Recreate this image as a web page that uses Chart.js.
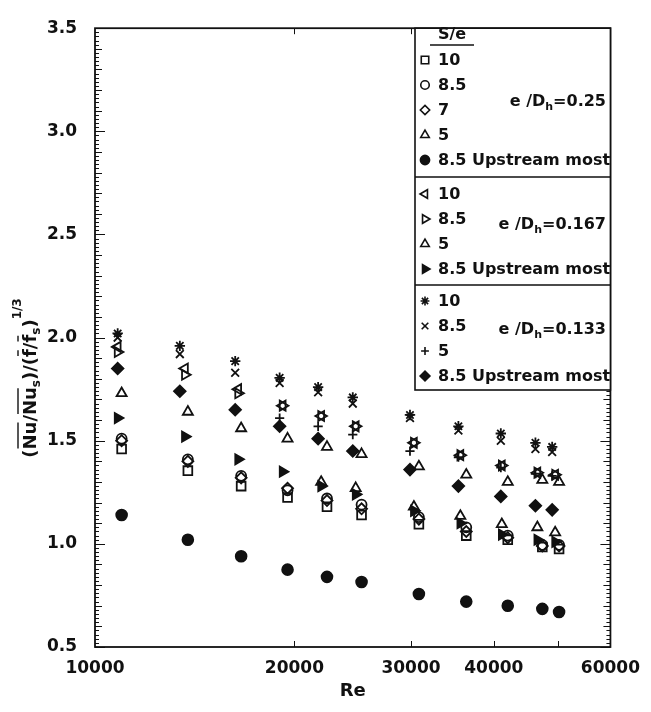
<!DOCTYPE html>
<html>
<head>
<meta charset="utf-8">
<script src="https://cdn.jsdelivr.net/npm/chart.js@4.4.0/dist/chart.umd.min.js"></script>
<style>
  html, body { margin: 0; padding: 0; background: #fff; }
</style>
</head>
<body>
<canvas id="chart" width="651" height="712"></canvas>
<script>
// Reynolds numbers of each rib-height family (e/Dh)
const reE133 = [10820, 13430, 16280, 19000, 21720, 24500, 29890, 35370, 40990, 46230, 49000];
const reE167 = [10820, 13670, 16450, 19200, 21950, 24750, 30300, 35610, 41130, 46540, 49510];
const reE250 = [10970, 13810, 16620, 19530, 22400, 25260, 30830, 36350, 41990, 47350, 50190];

// e/Dh = 0.25
const sq10   = [1.46, 1.355, 1.28, 1.225, 1.18, 1.14, 1.095, 1.04, 1.02, 0.985, 0.975];
const circ85 = [1.51, 1.41, 1.33, 1.26, 1.22, 1.19, 1.13, 1.08, 1.04, 0.995, 0.995];
const diam7  = [1.50, 1.40, 1.32, 1.27, 1.21, 1.17, 1.12, 1.06, 1.03, 0.99, 0.99];
const tri5a  = [1.73, 1.64, 1.56, 1.51, 1.47, 1.435, 1.375, 1.335, 1.30, 1.31, 1.30];
const up25   = [1.14, 1.02, 0.94, 0.875, 0.84, 0.815, 0.757, 0.72, 0.70, 0.685, 0.67];
// e/Dh = 0.167
const left10 = [1.955, 1.85, 1.75, 1.67, 1.62, 1.57, 1.49, 1.43, 1.38, 1.345, 1.335];
const right85 = [1.93, 1.82, 1.73, 1.67, 1.62, 1.57, 1.49, 1.43, 1.38, 1.345, 1.335];
const tri5b  = [null, null, null, null, 1.30, 1.27, 1.18, 1.135, 1.095, 1.08, 1.055];
const up167  = [1.61, 1.52, 1.41, 1.35, 1.28, 1.24, 1.16, 1.10, 1.045, 1.02, 1.01];
// e/Dh = 0.133
const star10 = [2.02, 1.96, 1.886, 1.805, 1.76, 1.71, 1.625, 1.57, 1.535, 1.49, 1.47];
const cross85 = [2.00, 1.92, 1.83, 1.78, 1.735, 1.68, 1.61, 1.55, 1.50, 1.46, 1.445];
const plus5  = [null, null, null, 1.61, 1.57, 1.53, 1.45, 1.42, 1.37, 1.34, 1.33];
const up133  = [1.85, 1.74, 1.65, 1.57, 1.51, 1.45, 1.36, 1.28, 1.23, 1.185, 1.165];

const xTicks = [10000, 20000, 30000, 40000, 50000, 60000];
const xLabels = [10000, 20000, 30000, 40000, 60000];
const yTicks = [0.5, 1.0, 1.5, 2.0, 2.5, 3.0, 3.5];

const FONT = "'DejaVu Sans', sans-serif";
const INK = '#111';
const NONE = 'rgba(0,0,0,0)';

// marker styles: [pointStyle, radius, rotation, filled]
const mk = {
  square:  ['rect', 6.2, 0, false],
  circle:  ['circle', 5, 0, false],
  diamond: ['rectRot', 5.5, 0, false],
  tri:     ['triangle', 5.8, 0, false],
  dot:     ['circle', 5.4, 0, true],
  left:    ['triangle', 5.8, 270, false],
  right:   ['triangle', 5.8, 90, false],
  play:    ['triangle', 5.8, 90, true],
  star:    ['star', 5.2, 0, false],
  xmark:   ['crossRot', 5.5, 0, false],
  plus:    ['cross', 4.6, 0, false],
  dfill:   ['rectRot', 5.8, 0, true]
};

function series(label, re, vals, m) {
  const [style, r, rot, filled] = mk[m];
  return {
    label,
    data: re.map((x, i) => ({ x, y: vals[i] })).filter(p => p.y !== null),
    pointStyle: style,
    pointRadius: r,
    pointRotation: rot,
    pointBorderWidth: 1.8,
    borderColor: INK,
    backgroundColor: filled ? INK : NONE,
    showLine: false
  };
}

const datasets = [
  series('S/e 10, e/Dh 0.25', reE250, sq10, 'square'),
  series('S/e 8.5, e/Dh 0.25', reE250, circ85, 'circle'),
  series('S/e 7, e/Dh 0.25', reE250, diam7, 'diamond'),
  series('S/e 5, e/Dh 0.25', reE250, tri5a, 'tri'),
  series('8.5 Upstream most, e/Dh 0.25', reE250, up25, 'dot'),
  series('S/e 10, e/Dh 0.167', reE167, left10, 'left'),
  series('S/e 8.5, e/Dh 0.167', reE167, right85, 'right'),
  series('S/e 5, e/Dh 0.167', reE167, tri5b, 'tri'),
  series('8.5 Upstream most, e/Dh 0.167', reE167, up167, 'play'),
  series('S/e 10, e/Dh 0.133', reE133, star10, 'star'),
  series('S/e 8.5, e/Dh 0.133', reE133, cross85, 'xmark'),
  series('S/e 5, e/Dh 0.133', reE133, plus5, 'plus'),
  series('8.5 Upstream most, e/Dh 0.133', reE133, up133, 'dfill')
];

// legend sections: rows of [marker, text], plus the e/Dh caption
const legendRows = [
  { rows: [['square', '10'], ['circle', '8.5'], ['diamond', '7'], ['tri', '5'], ['dot', '8.5 Upstream most']], ratio: '0.25' },
  { rows: [['left', '10'], ['right', '8.5'], ['tri', '5'], ['play', '8.5 Upstream most']], ratio: '0.167' },
  { rows: [['star', '10'], ['xmark', '8.5'], ['plus', '5'], ['dfill', '8.5 Upstream most']], ratio: '0.133' }
];

function drawMarker(ctx, m, x, y, scale) {
  const [style, r, rot, filled] = mk[m];
  ctx.save();
  ctx.strokeStyle = INK;
  ctx.fillStyle = filled ? INK : NONE;
  ctx.lineWidth = 1.6;
  Chart.helpers.drawPoint(ctx, { pointStyle: style, radius: r * scale, rotation: rot, borderWidth: 1.6 }, x, y);
  ctx.restore();
}

const decor = {
  id: 'decor',
  afterDraw(chart) {
    const { ctx, chartArea: a, scales: { x, y } } = chart;
    ctx.save();

    // inward tick marks
    ctx.strokeStyle = INK;
    ctx.lineWidth = 1;
    ctx.beginPath();
    for (let i = 0; i <= 150; i++) {
      const py = Math.round(y.getPixelForValue(0.5 + i * 0.02)) + 0.5;
      const len = i % 25 === 0 ? 10 : (i % 5 === 0 ? 7 : 4);
      ctx.moveTo(a.left, py); ctx.lineTo(a.left + len, py);
      ctx.moveTo(a.right, py); ctx.lineTo(a.right - len, py);
    }
    xTicks.slice(1, -1).forEach(v => {
      const px = Math.round(x.getPixelForValue(v)) + 0.5;
      ctx.moveTo(px, a.bottom); ctx.lineTo(px, a.bottom - 6);
      ctx.moveTo(px, a.top); ctx.lineTo(px, a.top + 6);
    });
    ctx.stroke();

    // frame
    ctx.lineWidth = 1.8;
    ctx.strokeRect(a.left, a.top, a.right - a.left, a.bottom - a.top);

    // legend box
    const bx = 415, bTop = a.top, bRight = a.right, bBottom = 390;
    ctx.fillStyle = '#fff';
    ctx.fillRect(bx, bTop, bRight - bx, bBottom - bTop);
    ctx.lineWidth = 1.6;
    ctx.strokeRect(bx, bTop, bRight - bx, bBottom - bTop);
    ctx.beginPath();
    ctx.moveTo(bx, 177); ctx.lineTo(bRight, 177);
    ctx.moveTo(bx, 285); ctx.lineTo(bRight, 285);
    ctx.stroke();

    ctx.fillStyle = INK;
    ctx.textBaseline = 'middle';
    ctx.font = `bold 16px ${FONT}`;
    ctx.textAlign = 'center';
    ctx.fillText('S/e', 452, 35);
    ctx.lineWidth = 1.5;
    ctx.beginPath();
    ctx.moveTo(430, 45); ctx.lineTo(474, 45);
    ctx.stroke();

    const rowYs = [[60, 85, 110, 135, 160], [194, 219, 244, 269], [301, 326, 351, 376]];
    const captionYs = [102, 225, 330];
    legendRows.forEach((sec, s) => {
      sec.rows.forEach(([m, txt], j) => {
        const ry = rowYs[s][j];
        drawMarker(ctx, m, 425, ry, 0.85);
        ctx.fillStyle = INK;
        ctx.textAlign = 'left';
        ctx.font = `bold 16px ${FONT}`;
        ctx.fillText(txt, 438, ry + 1);
      });
      // caption "e /Dh=..." right aligned
      const cy = captionYs[s];
      const big = `bold 16px ${FONT}`, small = `bold 11px ${FONT}`;
      const parts = [['e /D', big, 0], ['h', small, 5], ['=' + sec.ratio, big, 0]];
      let w = 0;
      parts.forEach(([t, f]) => { ctx.font = f; w += ctx.measureText(t).width; });
      let cx = 606 - w;
      ctx.textAlign = 'left';
      parts.forEach(([t, f, dy]) => {
        ctx.font = f;
        ctx.fillText(t, cx, cy + dy);
        cx += ctx.measureText(t).width;
      });
    });

    // x axis title
    ctx.font = `bold 18px ${FONT}`;
    ctx.textAlign = 'center';
    ctx.fillText('Re', (a.left + a.right) / 2, 691);

    // y axis title, rotated
    ctx.translate(31, 378);
    ctx.rotate(-Math.PI / 2);
    const big = `bold 18px ${FONT}`, small = `bold 12px ${FONT}`;
    const segs = [
      ['(', big, 0, 0], ['Nu', big, 0, 1], ['/', big, 0, 0], ['Nu', big, 0, 1], ['s', small, 6, 0],
      [')/(', big, 0, 0], ['f', big, 0, 1], ['/', big, 0, 0], ['f', big, 0, 1], ['s', small, 6, 0],
      [')', big, 0, 0], ['1/3', small, -13, 0]
    ];
    let total = 0;
    segs.forEach(([t, f]) => { ctx.font = f; total += ctx.measureText(t).width; });
    let tx = -total / 2;
    ctx.textAlign = 'left';
    ctx.lineWidth = 1.4;
    segs.forEach(([t, f, dy, bar]) => {
      ctx.font = f;
      const tw = ctx.measureText(t).width;
      ctx.fillText(t, tx, dy);
      if (bar) {
        ctx.beginPath();
        ctx.moveTo(tx + 1, -13); ctx.lineTo(tx + tw - 1, -13);
        ctx.stroke();
      }
      tx += tw;
    });
    ctx.restore();
  }
};

new Chart(document.getElementById('chart'), {
  type: 'scatter',
  data: { datasets },
  options: {
    responsive: false,
    animation: false,
    events: [],
    layout: { padding: { top: 15, right: 34, left: 0, bottom: 0 } },
    plugins: { legend: { display: false }, tooltip: { enabled: false } },
    scales: {
      x: {
        type: 'logarithmic',
        min: 10000,
        max: 60000,
        afterBuildTicks: s => { s.ticks = xTicks.map(v => ({ value: v })); },
        afterFit: s => { s.height = 65; },
        ticks: {
          autoSkip: false,
          maxRotation: 0,
          padding: 11,
          color: INK,
          font: { family: FONT, size: 17, weight: 'bold' },
          callback: v => xLabels.includes(v) ? String(v) : ''
        },
        grid: { display: false, drawTicks: false },
        border: { display: false }
      },
      y: {
        min: 0.5,
        max: 3.5,
        afterBuildTicks: s => { s.ticks = yTicks.map(v => ({ value: v })); },
        afterFit: s => { s.width = 95; },
        ticks: {
          padding: 18,
          color: INK,
          font: { family: FONT, size: 17, weight: 'bold' },
          callback: v => Number(v).toFixed(1)
        },
        grid: { display: false, drawTicks: false },
        border: { display: false }
      }
    }
  },
  plugins: [decor]
});
</script>
</body>
</html>
